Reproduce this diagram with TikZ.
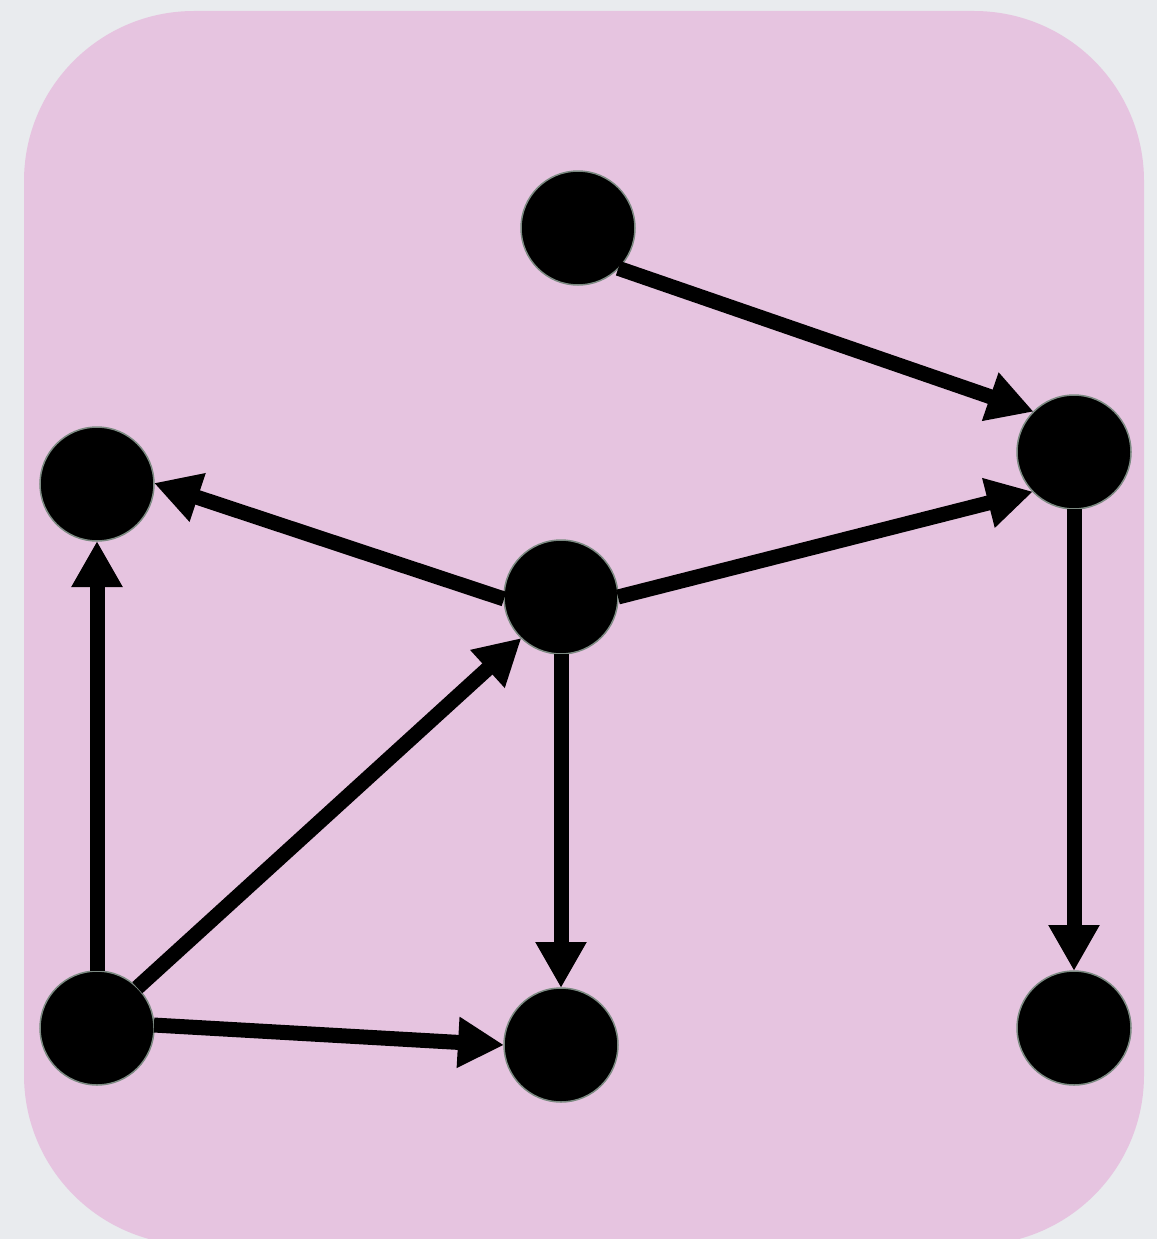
\documentclass[tikz,border=0pt]{standalone}
\usetikzlibrary{arrows.meta}
\definecolor{bggray}{HTML}{E9EBEE}
\definecolor{panelpink}{HTML}{E6C4E0}
\definecolor{rimgray}{HTML}{7C8A82}
\begin{document}
\begin{tikzpicture}[x=1pt,y=-1pt,
  dot/.style={circle,fill=black,draw=rimgray,line width=1.5pt,minimum size=114pt,inner sep=0pt,outer sep=0pt},
  edge/.style={line width=15pt,-{Triangle[length=46pt,width=48pt]}}]
\fill[bggray] (0,0) rectangle (1157,1239);
\useasboundingbox (0,0) rectangle (1157,1239);
\fill[panelpink,rounded corners=170pt] (24,11) rectangle (1144,1245);
\node[dot] (a) at (578,228) {};
\node[dot] (b) at (1074,452) {};
\node[dot] (c) at (97,484) {};
\node[dot] (d) at (561,597) {};
\node[dot] (e) at (97,1028) {};
\node[dot] (f) at (561,1045) {};
\node[dot] (g) at (1074,1028) {};
\draw[edge] (a.-45) -- (b.135);
\draw[edge] (d.182) -- (c.1);
\draw[edge] (d.0) -- (b.224);
\draw[edge] (d.270) -- (f.90);
\draw[edge] (e.90) -- (c.270);
\draw[edge] (e.45) -- (d.226);
\draw[edge] (e.3) -- (f.180);
\draw[edge] (b.270) -- (g.90);
\end{tikzpicture}
\end{document}
